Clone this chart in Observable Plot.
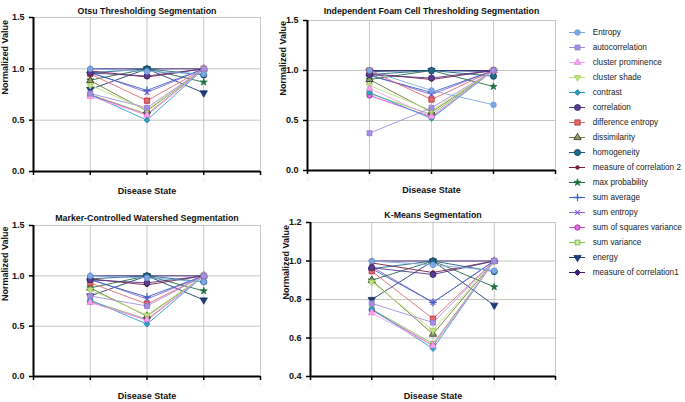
<!DOCTYPE html>
<html><head><meta charset="utf-8">
<script src="https://cdn.jsdelivr.net/npm/d3@7"></script>
<script src="https://cdn.jsdelivr.net/npm/@observablehq/plot@0.6"></script>
<style>
body{margin:0;background:#fff;}
#c{position:relative;width:685px;height:402px;overflow:hidden;font-family:"Liberation Sans",Arial,sans-serif;}
#c > svg{position:absolute;}
</style></head><body><div id="c"></div>
<script>
// ---- data ----
const features = ["Entropy","autocorrelation","cluster prominence","cluster shade","contrast","correlation","difference entropy","dissimilarity","homogeneity","measure of correlation 2","max probability","sum average","sum entropy","sum of squares variance","sum variance","energy","measure of correlation1"];
const states = [1, 2, 3];
const xTicks = [0, 1, 2, 3, 4];
const yTicksMain = [0, 0.5, 1.0, 1.5];
const yTicksKMeans = [0.4, 0.6, 0.8, 1.0, 1.2];
const titles = ["Otsu Thresholding Segmentation","Independent Foam Cell Thresholding Segmentation","Marker-Controlled Watershed Segmentation","K-Means Segmentation"];

const otsu = [
  [1.0, 0.975, 0.95], [0.76, 0.62, 1.0], [0.73, 0.55, 1.0], [0.84, 0.60, 1.0], [0.75, 0.50, 1.0],
  [0.96, 0.93, 1.0], [0.95, 0.69, 1.0], [0.885, 0.59, 1.0], [0.96, 1.0, 0.94], [0.98, 0.92, 1.0],
  [0.89, 1.0, 0.87], [0.96, 0.79, 1.0], [0.97, 0.77, 1.0], [0.745, 0.55, 1.0], [0.75, 0.56, 1.0],
  [0.80, 1.0, 0.765], [1.0, 1.0, 1.0]
];
const foam = [
  [1.0, 0.80, 0.657], [0.373, 0.627, 1.0], [0.82, 0.54, 1.0], [0.85, 0.60, 1.0], [0.78, 0.52, 1.0],
  [0.957, 0.925, 1.0], [1.0, 0.71, 1.0], [0.91, 0.583, 1.0], [0.96, 1.0, 0.943], [0.97, 0.91, 1.0],
  [0.91, 1.0, 0.84], [0.95, 0.78, 1.0], [0.96, 0.76, 1.0], [0.75, 0.535, 1.0], [0.77, 0.56, 1.0],
  [0.99, 1.0, 0.99], [1.0, 1.0, 1.0]
];
const watershed = [
  [1.0, 0.98, 0.94], [0.80, 0.70, 1.0], [0.735, 0.565, 1.0], [0.86, 0.61, 1.0], [0.76, 0.52, 1.0],
  [0.96, 0.93, 1.0], [0.93, 0.72, 1.0], [0.88, 0.60, 1.0], [0.97, 1.0, 0.94], [0.97, 0.91, 1.0],
  [0.88, 1.0, 0.85], [0.96, 0.79, 1.0], [0.97, 0.77, 1.0], [0.74, 0.56, 1.0], [0.75, 0.57, 1.0],
  [0.80, 1.0, 0.76], [1.0, 1.0, 1.0]
];
const kmeans = [
  [1.0, 0.98, 0.95], [0.78, 0.68, 1.0], [0.73, 0.56, 1.0], [0.89, 0.64, 1.0], [0.75, 0.545, 1.0],
  [0.965, 0.93, 1.0], [0.947, 0.70, 1.0], [0.90, 0.62, 1.0], [0.96, 1.0, 0.945], [0.99, 0.94, 1.0],
  [0.90, 1.0, 0.865], [0.96, 0.785, 1.0], [0.97, 0.785, 1.0], [0.745, 0.56, 1.0], [0.75, 0.57, 1.0],
  [0.80, 1.0, 0.77], [1.0, 1.0, 1.0]
];

// ---- styles ----
const lineColors = ["#7ea8e4","#a68fe2","#f2a2ee","#bde27e","#2f9ec6","#55368a","#e06a74","#6f7d3c","#1e6384","#7c1d40","#216e44","#4064c4","#8d62d8","#d444d4","#82c44a","#1e3d7a","#3c1c7c"];
const fills = ["#7ea8e4","#a68fe2","#f2a2ee","#bde27e","#2f9ec6","#5e3e92","#e26c6c","#8f9c6c","#1f6a8c","#7c1d40","#216e44","none","none","#e070e0","#c8eba0","#1e3d7a","#3c1c7c"];
const strokes = ["#6a94d4","#9078d0","#e48ee0","#a8d068","#2388b0","#2e1a5c","#b42a3a","#2a2f18","#123f5c","#5c1030","#216e44","#4064c4","#8d62d8","#a020a0","#6aae36","#14306a","#2a1060"];
const symbols = ["circle","square","triangle","triangle","square","circle","square","triangle","circle","circle","star","plus","times","circle","square","triangle","square"];
const rotations = [0,0,0,180,45,0,0,0,0,0,0,0,0,0,0,180,45];
const radii = [2.8,2.8,2.5,2.5,2.3,3.0,3.0,2.7,3.1,1.8,2.2,2.6,2.3,2.7,2.7,2.7,2.4];

const c = document.getElementById("c");
const fontFam = '"Liberation Sans", Arial, Helvetica, sans-serif';

function panel(p) {
  const rows = features.flatMap((f, i) => states.map((s, j) => ({feature: f, state: s, value: p.vals[i][j]})));
  const order = d3.range(features.length).reverse();
  const marks = [
    Plot.gridY(p.yTicks, {stroke: "#b8b8b8", strokeOpacity: 1, strokeWidth: 0.8}),
    Plot.gridX(xTicks.slice(1), {stroke: "#b8b8b8", strokeOpacity: 1, strokeWidth: 0.8}),
    Plot.axisX(xTicks, {tickSize: 4, tickPadding: 2, strokeWidth: 1.5, stroke: "#000", fill: "#ededed", tickFormat: d => String(d), label: null, fontSize: 6}),
    Plot.axisY(p.yTicks, {tickSize: 4, strokeWidth: 1.5, stroke: "#000", tickFormat: d3.format(".1f"), label: null, fontSize: 9, fontWeight: "bold", fill: "#111"}),
    Plot.ruleX([0], {stroke: "#000", strokeWidth: 2}),
    Plot.ruleY([p.yDomain[0]], {stroke: "#000", strokeWidth: 2}),
    ...order.map(i => Plot.line(rows.filter(r => r.feature === features[i]), {x: "state", y: "value", stroke: lineColors[i], strokeWidth: 0.9})),
    ...order.map(i => Plot.dot(rows.filter(r => r.feature === features[i]), {
      x: "state", y: "value", symbol: symbols[i], rotate: rotations[i], r: radii[i],
      fill: fills[i], stroke: strokes[i], strokeWidth: (symbols[i] === "plus" || symbols[i] === "times") ? 1.3 : 0.8
    })),
    Plot.text([p.title], {frameAnchor: "top", dy: p.titleDy, fontWeight: "bold", fontSize: 8.8, fill: "#111"}),
    Plot.text(["Disease State"], {frameAnchor: "bottom", dy: 22, fontWeight: "bold", fontSize: 9, fill: "#111"}),
    Plot.text(["Normalized Value"], {frameAnchor: "left", dx: -p.yLabelOff, rotate: -90, fontWeight: "bold", fontSize: 9, fill: "#111"})
  ];
  const svg = Plot.plot({
    width: p.width, height: p.height,
    marginLeft: p.m[0], marginRight: p.m[1], marginTop: p.m[2], marginBottom: p.m[3],
    x: {domain: [0, 4]},
    y: {domain: p.yDomain},
    style: {fontFamily: fontFam, background: "transparent", overflow: "visible"},
    marks
  });
  svg.style.left = p.left + "px";
  svg.style.top = p.top + "px";
  c.appendChild(svg);
}

panel({title: titles[0], vals: otsu, yDomain: [0, 1.5], yTicks: yTicksMain, left: 0, top: 0, width: 275, height: 200, m: [33, 15, 17, 29], titleDy: -10, yLabelOff: 28});
panel({title: titles[1], vals: foam, yDomain: [0, 1.5], yTicks: yTicksMain, left: 275, top: 0, width: 285, height: 200, m: [32, 5, 20, 30], titleDy: -13, yLabelOff: 24});
panel({title: titles[2], vals: watershed, yDomain: [0, 1.5], yTicks: yTicksMain, left: 0, top: 200, width: 275, height: 202, m: [33, 15, 25, 26], titleDy: -11, yLabelOff: 28});
panel({title: titles[3], vals: kmeans, yDomain: [0.4, 1.2], yTicks: yTicksKMeans, left: 275, top: 200, width: 285, height: 202, m: [35, 5, 22, 26], titleDy: -11, yLabelOff: 24});

// ---- legend ----
const legendMarks = [];
features.forEach((f, i) => {
  legendMarks.push(Plot.ruleY([f], {x1: 0, x2: 1, stroke: lineColors[i], strokeWidth: 1}));
  legendMarks.push(Plot.dot([f], {x: 0.5, y: d => d, symbol: symbols[i], rotate: rotations[i], r: radii[i],
    fill: fills[i], stroke: strokes[i], strokeWidth: (symbols[i] === "plus" || symbols[i] === "times") ? 1.3 : 0.8}));
});
legendMarks.push(Plot.text(features, {x: 1.45, y: d => d, text: d => d, textAnchor: "start", fontSize: 8.2, fill: "#222"}));
const legend = Plot.plot({
  width: 125, height: 290, margin: 0,
  x: {domain: [0, 1], range: [9, 25], axis: null},
  y: {type: "point", domain: features, range: [14, 270], axis: null},
  style: {fontFamily: fontFam, background: "transparent", overflow: "visible"},
  marks: legendMarks
});
legend.style.left = "560px";
legend.style.top = "10px";
c.appendChild(legend);
</script></body></html>
